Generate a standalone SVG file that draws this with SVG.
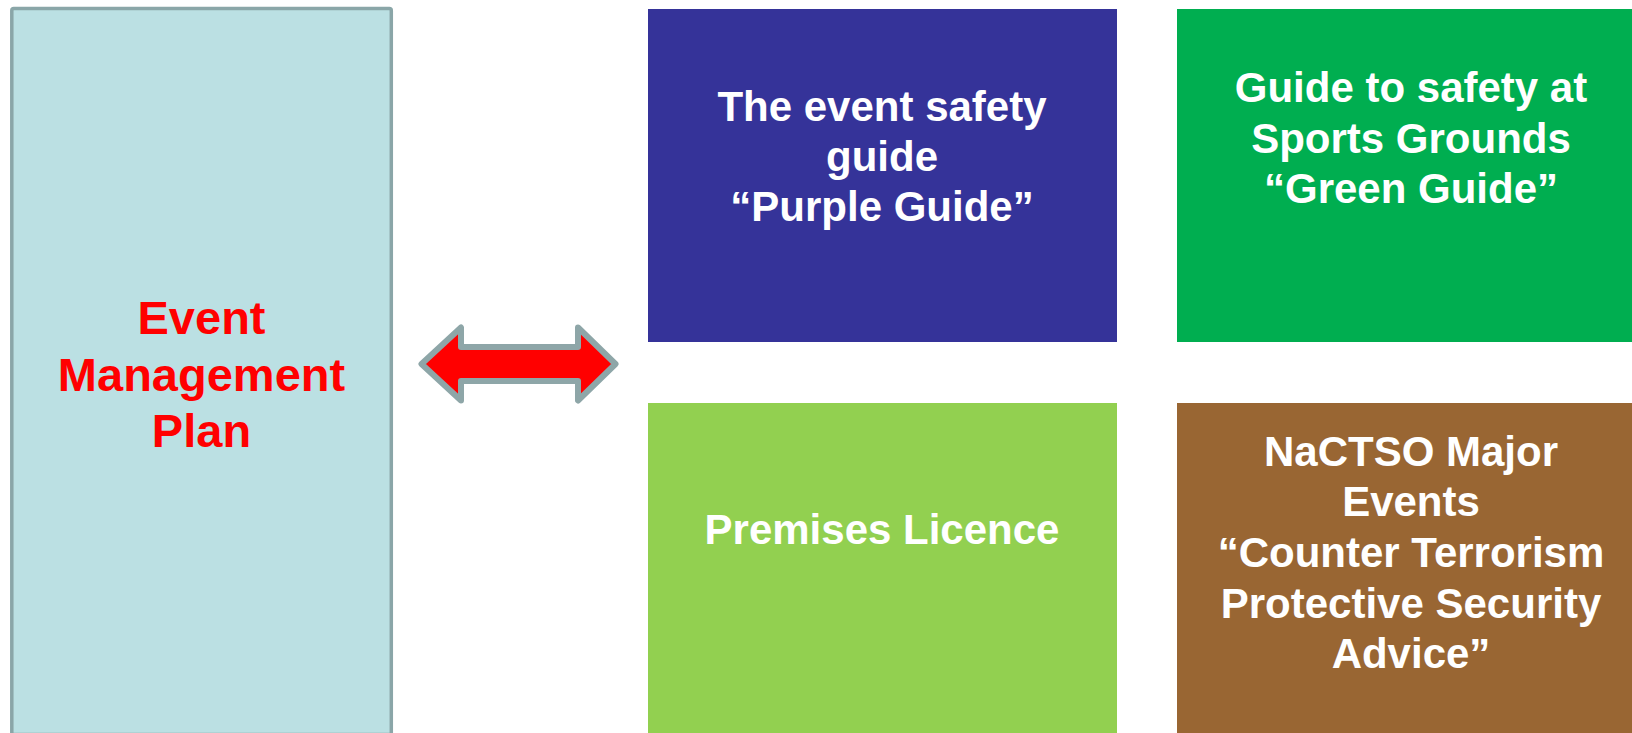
<svg xmlns="http://www.w3.org/2000/svg" width="1632" height="733" viewBox="0 0 1632 733">
<style>
.t{font-family:"Liberation Sans",Arial,sans-serif;font-weight:bold;text-anchor:middle;fill:#ffffff;font-size:42px}
.red{fill:#ff0000;font-size:47px}
</style>
<rect x="0" y="0" width="1632" height="733" fill="#ffffff"/>
<g id="event-management-plan">
<rect x="11.8" y="8.5" width="379.5" height="726" rx="2" fill="#bbe0e3" stroke="#8aa6a8" stroke-width="3.5"/>
<text class="t red" x="201.5" y="334">Event</text>
<text class="t red" x="201.5" y="390.5">Management</text>
<text class="t red" x="201.5" y="447">Plan</text>
</g>
<g id="connectors">
<path d="M421.5,364 L461,327.5 L461,347 L578,347 L578,327.5 L615.5,364 L578,400.5 L578,381 L461,381 L461,400.5 Z" fill="#ff0000" stroke="#8ea6a8" stroke-width="6" stroke-linejoin="round"/>
</g>
<g id="purple-guide">
<rect x="648" y="9" width="469" height="333" fill="#353399"/>
<text class="t" x="882" y="121">The event safety</text>
<text class="t" x="882" y="171">guide</text>
<text class="t" x="882" y="221">“Purple Guide”</text>
</g>
<g id="green-guide">
<rect x="1177" y="9" width="468" height="333" fill="#00ae50"/>
<text class="t" x="1411" y="102">Guide to safety at</text>
<text class="t" x="1411" y="153">Sports Grounds</text>
<text class="t" x="1411" y="203">“Green Guide”</text>
</g>
<g id="premises-licence">
<rect x="648" y="403" width="469" height="340" fill="#92d050"/>
<text class="t" x="882" y="544">Premises Licence</text>
</g>
<g id="nactso">
<rect x="1177" y="403" width="468" height="340" fill="#996633"/>
<text class="t" x="1411" y="466">NaCTSO Major</text>
<text class="t" x="1411" y="516">Events</text>
<text class="t" x="1411" y="567">“Counter Terrorism</text>
<text class="t" x="1411" y="618">Protective Security</text>
<text class="t" x="1411" y="668">Advice”</text>
</g>
</svg>
